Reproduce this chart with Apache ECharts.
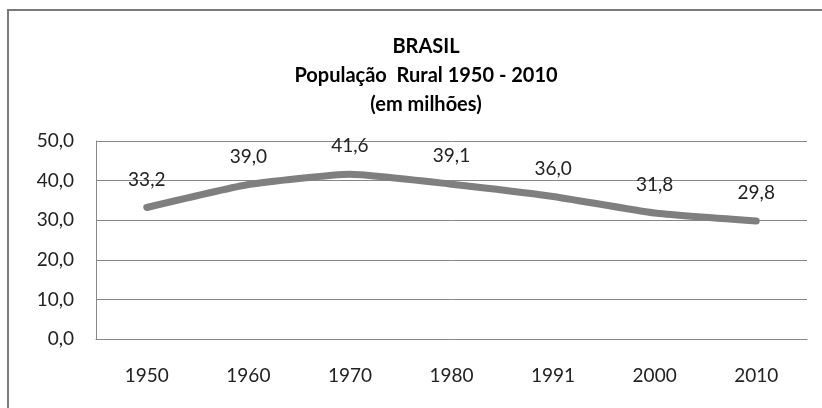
<!DOCTYPE html>
<html>
<head>
<meta charset="utf-8">
<script src="https://cdn.jsdelivr.net/npm/echarts@6/dist/echarts.min.js"></script>
<style>html,body{margin:0;padding:0;background:#fff;}#c{width:822px;height:408px;}</style>
</head>
<body>
<div id="c"></div>
<script>
const categories = ['1950', '1960', '1970', '1980', '1991', '2000', '2010'];
const ruralPopulation = [33.2, 39.0, 41.6, 39.1, 36.0, 31.8, 29.8];
const titleLines = ['BRASIL', 'População  Rural 1950 - 2010', '(em milhões)'];
const yMin = 0, yMax = 50, yStep = 10;

const fmt = v => v.toFixed(1).replace('.', ',');
const FONT = 'Lato, "Open Sans", sans-serif';

const chart = echarts.init(document.getElementById('c'));
chart.setOption({
  animation: false,
  backgroundColor: '#fff',
  graphic: [{
    type: 'rect',
    shape: { x: 8, y: 10, width: 830, height: 420 },
    style: { fill: 'none', stroke: '#7a7a7a', lineWidth: 2 },
    silent: true
  }],
  title: {
    text: titleLines.join('\n'),
    left: 421,
    textAlign: 'center',
    top: 27,
    textStyle: { fontFamily: FONT, fontWeight: 'bold', fontSize: 20, lineHeight: 29, color: '#000' }
  },
  grid: { left: 96, right: 15, top: 141, bottom: 69 },
  xAxis: {
    type: 'category',
    data: categories,
    boundaryGap: true,
    axisLine: { show: true, lineStyle: { color: '#888', width: 1 } },
    axisTick: { show: false },
    axisLabel: { color: '#222', fontFamily: FONT, fontSize: 19, margin: 27 }
  },
  yAxis: {
    type: 'value',
    min: yMin, max: yMax, interval: yStep,
    axisLine: { show: true, lineStyle: { color: '#888', width: 1 } },
    axisTick: { show: false },
    splitLine: { show: true, lineStyle: { color: '#888', width: 1 } },
    axisLabel: { color: '#222', fontFamily: FONT, fontSize: 19, margin: 22, formatter: fmt }
  },
  series: [{
    type: 'line',
    data: ruralPopulation,
    symbol: 'circle',
    symbolSize: 1,
    itemStyle: { color: '#7f7f7f' },
    smooth: 0.15,
    lineStyle: { color: '#7f7f7f', width: 7, cap: 'round', join: 'round' },
    label: {
      show: true,
      position: 'top',
      distance: 18,
      color: '#222',
      fontFamily: FONT,
      fontSize: 19,
      formatter: p => fmt(p.value)
    }
  }]
});
</script>
</body>
</html>
